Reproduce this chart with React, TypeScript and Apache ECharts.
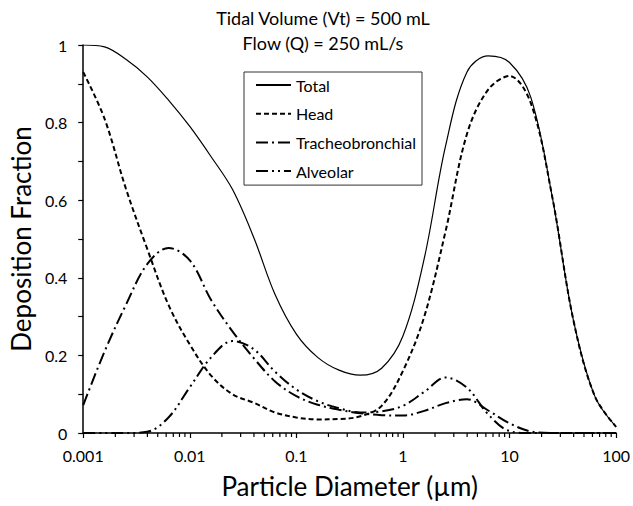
import React, { useEffect, useRef } from "react";
import * as echarts from "echarts";

// Particle diameters (µm), log-spaced (0.2 decade)
const diameters = [
  0.001, 0.001585, 0.002512, 0.003981, 0.00631, 0.01, 0.01585, 0.02512, 0.03981, 0.0631,
  0.1, 0.1585, 0.2512, 0.3981, 0.631, 1, 1.585, 2.512, 3.981, 6.31,
  10, 15.85, 25.12, 39.81, 63.1, 100,
];

const totalValues = [
  1.0, 0.995, 0.963, 0.918, 0.858, 0.79, 0.712, 0.628, 0.504, 0.357,
  0.255, 0.195, 0.162, 0.149, 0.167, 0.25, 0.45, 0.74, 0.93, 0.972,
  0.955, 0.865, 0.61, 0.29, 0.095, 0.016,
];

const headValues = [
  0.93, 0.81, 0.63, 0.475, 0.33, 0.228, 0.148, 0.1, 0.078, 0.053,
  0.04, 0.035, 0.036, 0.043, 0.07, 0.16, 0.3, 0.52, 0.77, 0.885,
  0.92, 0.85, 0.61, 0.29, 0.095, 0.016,
];

const tracheobronchialValues = [
  0.072, 0.21, 0.33, 0.435, 0.477, 0.445, 0.343, 0.262, 0.193, 0.133,
  0.095, 0.073, 0.06, 0.051, 0.046, 0.045, 0.057, 0.077, 0.087, 0.058,
  0.025, 0.004, 0, 0, 0, 0,
];

const alveolarValues = [
  0, 0, 0, 0.003, 0.04, 0.118, 0.195, 0.237, 0.216, 0.158,
  0.112, 0.082, 0.064, 0.053, 0.056, 0.07, 0.106, 0.143, 0.117, 0.048,
  0.005, 0, 0, 0, 0, 0,
];

const seriesNames = ["Total", "Head", "Tracheobronchial", "Alveolar"];
const titleLines = ["Tidal Volume (Vt) = 500 mL", "Flow (Q) = 250 mL/s"];
const xAxisName = "Particle Diameter (µm)";
const yAxisName = "Deposition Fraction";

// minor log ticks 2..9 per decade (axis structure)
const minorTicks: number[] = [];
[0.001, 0.01, 0.1, 1, 10].forEach((d) => {
  for (let k = 2; k <= 9; k++) minorTicks.push(+(d * k).toPrecision(3));
});

const FONT = "Lato";

export default function App() {
  const ref = useRef<HTMLDivElement>(null);
  useEffect(() => {
    document.body.style.margin = "0";
    if (!ref.current) return;
    const chart = echarts.init(ref.current, undefined, { renderer: "svg" });
    const pairs = (vals: number[]) => diameters.map((d, i) => [d, vals[i]]);
    const baseLine = {
      type: "line",
      symbol: "none",
      showSymbol: false,
      smooth: 0.35,
      z: 3,
      itemStyle: { color: "#000" },
    };
    chart.setOption({
      animation: false,
      backgroundColor: "#fff",
      color: ["#000"],
      textStyle: { fontFamily: FONT, color: "#000" },
      title: {
        text: titleLines.join("\n"),
        left: 323,
        top: 5,
        padding: 0,
        textAlign: "center",
        textStyle: { fontFamily: FONT, fontSize: 18, fontWeight: "normal", color: "#000", lineHeight: 25 },
      },
      legend: {
        data: seriesNames,
        orient: "vertical",
        left: 244,
        top: 72,
        padding: [5, 6, 6, 11],
        itemWidth: 35,
        itemHeight: 14,
        itemGap: 12.7,
        borderColor: "#333",
        borderWidth: 1,
        itemStyle: { opacity: 0 },
        textStyle: { fontFamily: FONT, fontSize: 16, color: "#000" },
      },
      grid: { left: 83, right: 11, top: 45, bottom: 73 },
      xAxis: {
        type: "log",
        logBase: 10,
        min: 0.001,
        max: 100,
        name: xAxisName,
        nameLocation: "middle",
        nameGap: 40,
        nameTextStyle: { fontFamily: FONT, fontSize: 26, color: "#000" },
        axisLine: { lineStyle: { color: "#000", width: 1.5 } },
        axisTick: { show: true, length: 5, lineStyle: { color: "#000", width: 1.2 } },
        axisLabel: {
          fontFamily: FONT,
          fontSize: 16,
          color: "#000",
          margin: 14,
          formatter: (v: number) => String(+v.toPrecision(3)),
        },
        splitLine: { show: false },
      },
      yAxis: {
        type: "value",
        min: 0,
        max: 1,
        interval: 0.2,
        name: yAxisName,
        nameLocation: "middle",
        nameGap: 45,
        nameTextStyle: { fontFamily: FONT, fontSize: 26, color: "#000" },
        axisLine: { show: true, lineStyle: { color: "#000", width: 1.5 } },
        axisTick: { show: true, length: 5, lineStyle: { color: "#000", width: 1.2 } },
        minorTick: { show: true, splitNumber: 2, length: 5, lineStyle: { color: "#000", width: 1.2 } },
        axisLabel: {
          fontFamily: FONT,
          fontSize: 16,
          color: "#000",
          margin: 16,
          formatter: (v: number) => String(+v.toFixed(1)),
        },
        splitLine: { show: false },
      },
      series: [
        { ...baseLine, name: "Total", data: pairs(totalValues), lineStyle: { color: "#000", width: 1.2, type: "solid" } },
        { ...baseLine, name: "Head", data: pairs(headValues), lineStyle: { color: "#000", width: 2, type: [5, 3] } },
        {
          ...baseLine,
          name: "Tracheobronchial",
          data: pairs(tracheobronchialValues),
          lineStyle: { color: "#000", width: 2, type: [12, 4, 2, 4] },
        },
        {
          ...baseLine,
          name: "Alveolar",
          data: pairs(alveolarValues),
          lineStyle: { color: "#000", width: 2, type: [12, 4, 2, 4, 2, 4] },
        },
        {
          type: "custom",
          name: "minorTicks",
          silent: true,
          clip: false,
          data: minorTicks.map((v) => [v, 0]),
          renderItem: (_params: any, api: any) => {
            const p = api.coord([api.value(0), 0]);
            return {
              type: "line",
              shape: { x1: p[0], y1: p[1], x2: p[0], y2: p[1] + 4 },
              style: { stroke: "#000", lineWidth: 1.2 },
            };
          },
        },
      ],
    });
    return () => chart.dispose();
  }, []);
  return <div ref={ref} style={{ width: 633, height: 506 }} />;
}
